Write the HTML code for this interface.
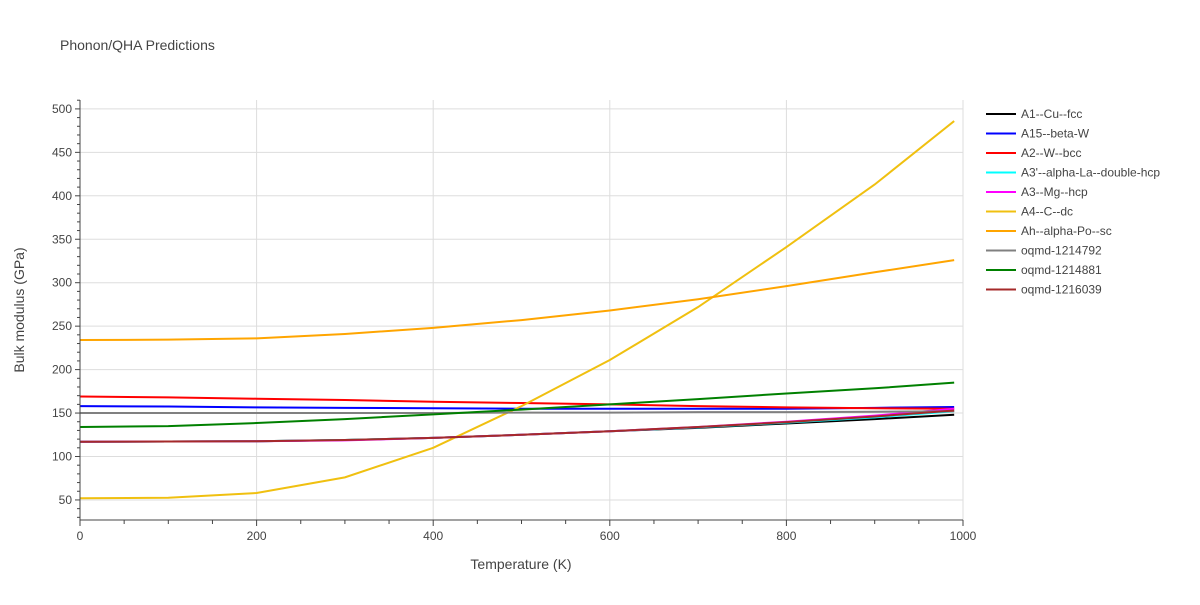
<!DOCTYPE html>
<html><head><meta charset="utf-8"><style>
body{margin:0;background:#fff;font-family:"Liberation Sans",sans-serif}
text{font-family:"Liberation Sans",sans-serif;fill:#444}
</style></head><body>
<svg id="chart" width="1200" height="600" xmlns="http://www.w3.org/2000/svg">
<text x="60" y="50" font-size="14">Phonon/QHA Predictions</text>
<g id="grid"></g><g id="series"></g><g id="axes"></g><g id="legend"></g>
<text x="521" y="569" font-size="14" text-anchor="middle">Temperature (K)</text>
<text transform="translate(24,310) rotate(-90)" font-size="14" text-anchor="middle">Bulk modulus (GPa)</text>
</svg>
<script>
const temps=[0,100,200,300,400,500,600,700,800,900,990];
const seriesNames=["A1--Cu--fcc","A15--beta-W","A2--W--bcc","A3'--alpha-La--double-hcp","A3--Mg--hcp","A4--C--dc","Ah--alpha-Po--sc","oqmd-1214792","oqmd-1214881","oqmd-1216039"];
const seriesColors=["#000000","#0000ff","#ff0000","#00ffff","#ff00ff","#f0c010","#ffa500","#808080","#008000","#a52a2a"];
const vCu=[117,117.2,117.5,119,121.5,125,129,133,138,143,148];
const vW15=[158,157.5,156.5,156,155.5,155,155,155,155,156,157];
const vW=[169,168,166.5,165,163,161.5,160,158,156.5,155.5,155];
const vLa=[117,117.2,117.5,119,121.5,125,129,133.5,139,145,152];
const vMg=[117,117.2,117.5,118.5,121.5,125,129,134,140,147,155];
const vC=[52,52.5,58,76,110,158,211,272,341,413,486];
const vPo=[234,234.5,236,241,248,257,268,281,296,312,326];
const v792=[150,150,150,150,150,150.5,150.5,151,151,151.5,152];
const v881=[134,135,138.5,143,148.5,154,160,166,172.5,178.5,185];
const v039=[117,117.2,117.5,119,121.5,125,129,134,139.5,146,153];
const allValues=[vCu,vW15,vW,vLa,vMg,vC,vPo,v792,v881,v039];
const xTicks=[0,200,400,600,800,1000];
const yTicks=[50,100,150,200,250,300,350,400,450,500];
const NS="http://www.w3.org/2000/svg";
const X0=80,X1=963,YB=520,YT=100;
const xs=t=>X0+(t/1000)*(X1-X0);
const ys=v=>543.4-v*0.869;
function mk(tag,attrs,parent){const e=document.createElementNS(NS,tag);for(const k in attrs)e.setAttribute(k,attrs[k]);document.getElementById(parent).appendChild(e);return e;}
xTicks.forEach(t=>{
 if(t>0){const g=mk('line',{x1:xs(t),x2:xs(t),y1:YT,y2:YB,stroke:'#ddd'},'grid');
 
 }
 const l=mk('text',{x:xs(t),y:YB+20,'font-size':12,'text-anchor':'middle'},'axes');l.textContent=t;
 
 
});
for(let t=0;t<=1000;t+=50){const k=mk('line',{x1:xs(t),x2:xs(t),y1:YB,y2:YB+(t%200===0?6:4),stroke:'#444'},'axes');
 
 }
yTicks.forEach(v=>{
 const g=mk('line',{x1:X0,x2:X1,y1:ys(v),y2:ys(v),stroke:'#ddd'},'grid');
 
 
 const l=mk('text',{x:X0-8,y:ys(v)+4,'font-size':12,'text-anchor':'end'},'axes');l.textContent=v;
 
 
});
for(let v=30;v<=510;v+=10){const y=ys(v);if(y<YT||y>YB)continue;const k=mk('line',{x1:X0-(v%50===0?5:3),x2:X0,y1:y,y2:y,stroke:'#444'},'axes');
 
 }
const ax=mk('line',{x1:X0,x2:X0,y1:YT,y2:YB,stroke:'#444'},'axes');


const bx=mk('line',{x1:X0,x2:X1,y1:YB,y2:YB,stroke:'#444'},'axes');


allValues.forEach((vals,i)=>{
 const p=mk('polyline',{points:vals.map((v,j)=>xs(temps[j])+','+ys(v)).join(' '),fill:'none',stroke:seriesColors[i],'stroke-width':2},'series');
 
 
 const y=114+i*19.5;
 const g=mk('line',{x1:986,x2:1016,y1:y,y2:y,stroke:seriesColors[i],'stroke-width':2},'legend');
 
 
 const t=mk('text',{x:1021,y:y+4,'font-size':12},'legend');t.textContent=seriesNames[i];
 
 
});
</script>
</body></html>
